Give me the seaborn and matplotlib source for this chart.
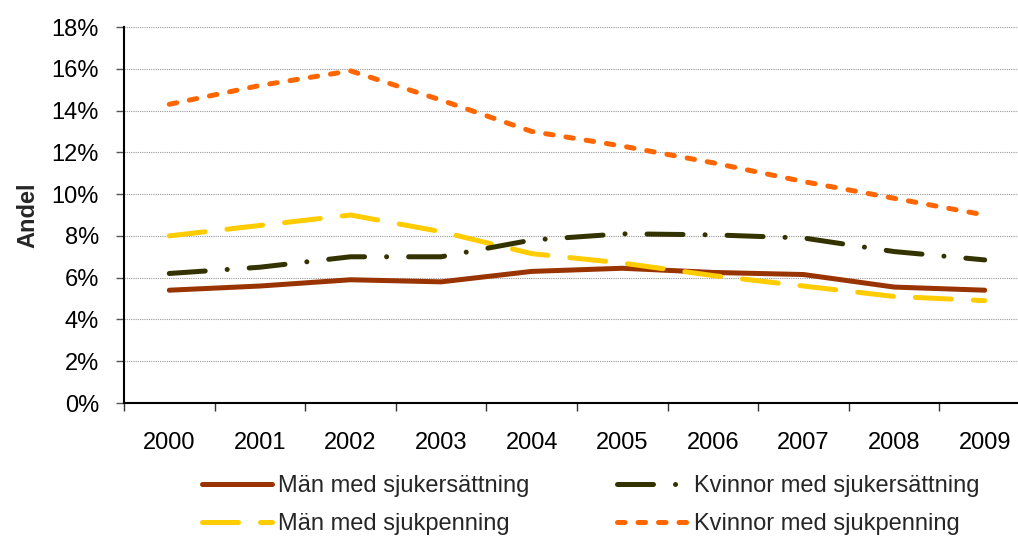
import matplotlib
matplotlib.use("Agg")
import matplotlib.pyplot as plt
import seaborn as sns
import numpy as np
import pandas as pd
from matplotlib.ticker import FixedLocator, FuncFormatter

years = ["2000", "2001", "2002", "2003", "2004", "2005", "2006", "2007", "2008", "2009"]
man_sjukersattning = [5.4, 5.6, 5.9, 5.8, 6.3, 6.45, 6.25, 6.15, 5.55, 5.4]
kvinnor_sjukersattning = [6.2, 6.5, 7.0, 7.0, 7.8, 8.1, 8.05, 7.9, 7.25, 6.85]
man_sjukpenning = [8.0, 8.5, 9.0, 8.2, 7.15, 6.7, 6.1, 5.6, 5.1, 4.9]
kvinnor_sjukpenning = [14.3, 15.2, 15.9, 14.5, 13.0, 12.3, 11.5, 10.6, 9.8, 9.0]
yticks = [0, 2, 4, 6, 8, 10, 12, 14, 16, 18]

sns.set_style("white")
plt.rcParams["font.family"] = ["Liberation Sans", "DejaVu Sans"]

FS = 17
fig = plt.figure(figsize=(10.18, 5.36), dpi=100)
ax = fig.add_axes([124 / 1018, 133 / 536, (1030 - 124) / 1018, 376 / 536])

lw = 3.6
series = [
    ("Män med sjukersättning", man_sjukersattning, "#993300", "-"),
    ("Män med sjukpenning", man_sjukpenning, "#FFCC00", (0, (7.2, 4.4))),
    ("Kvinnor med sjukersättning", kvinnor_sjukersattning, "#333300", (0, (7.2, 4.4, 0.01, 4.4))),
    ("Kvinnor med sjukpenning", kvinnor_sjukpenning, "#FF6600", (0, (1.5, 2.6))),
]
xpos = np.arange(len(years))
for name, vals, color, ls in series:
    df = pd.DataFrame({"x": xpos, "y": vals})
    sns.lineplot(data=df, x="x", y="y", ax=ax, color=color, lw=lw, linestyle=ls, label=name)
for line in ax.get_lines():
    line.set_dash_capstyle("round")
    line.set_solid_capstyle("round")
    line.set_solid_joinstyle("round")
    line.set_dash_joinstyle("round")

ax.set_xlim(-0.5, len(years) - 0.5)
ax.set_ylim(0, 18)
ax.set_xticks(xpos)
ax.set_xticklabels(years)
ax.xaxis.set_minor_locator(FixedLocator(np.arange(-0.5, len(years), 1.0)))
ax.tick_params(axis="x", which="major", length=0, pad=21, labelsize=FS, colors="black")
ax.tick_params(axis="x", which="minor", length=6, width=1, color="#333333", direction="out", bottom=True)
ax.set_yticks(yticks)
ax.yaxis.set_major_formatter(FuncFormatter(lambda v, p: f"{int(v)}%"))
ax.tick_params(axis="y", which="major", length=6, width=1, color="#555555", direction="out", left=True, pad=12, labelsize=FS, colors="black")
ax.grid(axis="y", color="#999999", linestyle=(0, (1, 1)), linewidth=0.8)
ax.grid(axis="x", visible=False)
for s in ["top", "right"]:
    ax.spines[s].set_visible(False)
for s in ["left", "bottom"]:
    ax.spines[s].set_color("black")
    ax.spines[s].set_linewidth(1.5)
ax.set_xlabel("")
ax.set_ylabel("Andel", fontsize=FS, fontweight="bold", labelpad=9)

handles, labels = ax.get_legend_handles_labels()
ax.get_legend().remove()
fig.legend(handles, labels, ncol=2, loc="upper left", bbox_to_anchor=(202 / 1018, 1 - 475 / 536),
           frameon=False, fontsize=FS, handlelength=2.97, handletextpad=0.25, columnspacing=3.73,
           labelspacing=0.68, borderpad=0, borderaxespad=0)

fig.savefig("out.png", dpi=100)
